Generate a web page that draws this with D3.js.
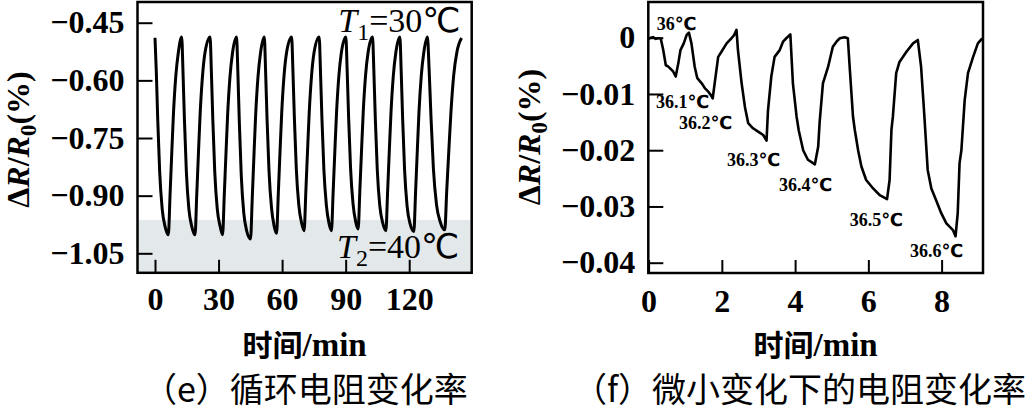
<!DOCTYPE html>
<html><head><meta charset="utf-8">
<script src="https://cdn.jsdelivr.net/npm/d3@7"></script>
<style>html,body{margin:0;padding:0;background:#fff}svg{display:block}</style>
</head><body>
<svg id="chart" width="1035" height="416"></svg>
<script>
// ---------- data: (e) cyclic resistance change ----------
const cycleTime = [0,0.6,1.3,2.2,3.4,4.8,6.3,7.1,7.9,8.7,9.8,11.0,
 12.6,13.2,13.9,14.8,16.0,17.4,18.9,19.7,20.5,21.3,22.4,23.6,
 26.0,26.6,27.3,28.2,29.4,30.8,31.9,32.7,33.5,34.3,35.4,36.6,
 38.5,39.1,39.8,40.7,41.9,43.3,45.1,45.9,46.7,47.5,48.6,49.8,
 51.6,52.2,52.9,53.8,55.0,56.2,57.4,58.2,59.0,59.8,60.9,62.1,
 64.5,65.1,65.8,66.7,67.9,69.2,70.4,71.2,72.0,72.8,73.9,75.1,
 77.5,78.1,78.8,79.7,80.9,82.1,83.3,84.1,84.9,85.7,86.8,88.0,
 90.1,90.7,91.4,92.3,93.5,94.7,95.9,96.7,97.5,98.3,99.4,100.6,
 102.7,103.3,104.0,104.9,106.1,107.5,109.0,109.8,110.6,111.4,112.5,113.7,
 115.6,116.2,116.9,117.8,119.0,120.4,122.2,123.0,123.8,124.6,125.7,126.9,
 128.6,129.4,130.3,131.4,132.9,134.7,136.8,137.7,138.7,139.7,141.0,142.5,144.7];
const cycleValue = [-0.489,-0.575,-0.703,-0.837,-0.935,-0.981,-1.002,-0.899,-0.791,-0.688,-0.590,-0.528,
 -0.487,-0.575,-0.703,-0.837,-0.935,-0.981,-1.002,-0.899,-0.791,-0.688,-0.590,-0.528,
 -0.487,-0.575,-0.703,-0.837,-0.935,-0.981,-1.002,-0.899,-0.791,-0.688,-0.590,-0.528,
 -0.487,-0.576,-0.708,-0.845,-0.945,-0.992,-1.013,-0.908,-0.797,-0.692,-0.592,-0.529,
 -0.487,-0.574,-0.702,-0.834,-0.932,-0.978,-0.998,-0.896,-0.788,-0.686,-0.589,-0.528,
 -0.487,-0.573,-0.699,-0.830,-0.925,-0.971,-0.991,-0.890,-0.784,-0.684,-0.588,-0.527,
 -0.487,-0.573,-0.699,-0.830,-0.925,-0.971,-0.991,-0.890,-0.784,-0.684,-0.588,-0.527,
 -0.487,-0.572,-0.697,-0.827,-0.922,-0.967,-0.987,-0.887,-0.782,-0.682,-0.587,-0.527,
 -0.487,-0.573,-0.699,-0.830,-0.925,-0.971,-0.991,-0.890,-0.784,-0.684,-0.588,-0.527,
 -0.487,-0.573,-0.700,-0.831,-0.927,-0.973,-0.993,-0.892,-0.786,-0.684,-0.588,-0.527,
 -0.487,-0.572,-0.698,-0.828,-0.924,-0.969,-0.989,-0.889,-0.783,-0.683,-0.587,-0.527,-0.490];
const cycleXTicks = [0,30,60,90,120];
const cycleXTickLabels = ["0","30","60","90","120"];
const cycleYTicks = [-0.45,-0.60,-0.75,-0.90,-1.05];
const cycleYTickLabels = ["\u22120.45","\u22120.60","\u22120.75","\u22120.90","\u22121.05"];
const hotZoneFrom = -0.963;            // shaded band (T2 zone) upper value
const coldLabel = {sym:"T", sub:"1", rest:"=30\u2103", t:86.5, v:-0.4734};
const hotLabel  = {sym:"T", sub:"2", rest:"=40\u2103", t:85.9, v:-1.063};

// ---------- data: (f) small change resistance ----------
const smallTime = [0.00,0.06,0.12,0.20,0.26,0.33,0.40,0.47,0.53,0.58,0.67,0.74,0.81,0.87,0.96,1.04,1.10,
 1.17,1.26,1.33,1.45,1.54,1.63,1.70,1.75,1.81,1.90,1.99,2.13,2.26,2.33,2.40,
 2.44,2.54,2.63,2.72,2.85,2.99,3.13,3.22,3.26,3.35,3.44,3.58,3.67,3.76,3.87,
 3.94,4.04,4.10,4.22,4.35,4.49,4.54,4.63,4.67,4.76,4.90,5.03,5.13,5.22,5.35,5.44,
 5.49,5.58,5.63,5.72,5.81,5.94,6.13,6.31,6.51,6.58,6.63,6.67,6.76,6.85,7.04,7.22,7.35,
 7.44,7.53,7.62,7.72,7.85,7.99,8.13,8.31,8.38,8.44,8.49,8.54,8.63,8.72,8.86,8.99,9.11];
const smallValue = [-0.0002,0.0000,0.0001,-0.0002,-0.0001,-0.0001,-0.0022,-0.0049,-0.0051,-0.0054,-0.0060,-0.0069,-0.0046,-0.0022,-0.0010,0.0005,0.0009,
 -0.0010,-0.0052,-0.0072,-0.0081,-0.0090,-0.0096,-0.0102,-0.0108,-0.0078,-0.0034,-0.0025,-0.0010,-0.0001,0.0004,0.0014,
 -0.0022,-0.0081,-0.0123,-0.0152,-0.0161,-0.0167,-0.0173,-0.0183,-0.0129,-0.0069,-0.0034,-0.0022,-0.0007,-0.0001,0.0006,
 -0.0081,-0.0140,-0.0165,-0.0200,-0.0217,-0.0223,-0.0225,-0.0194,-0.0150,-0.0081,-0.0052,-0.0016,-0.0007,-0.0001,0.0001,-0.0001,
 -0.0052,-0.0140,-0.0164,-0.0200,-0.0229,-0.0253,-0.0268,-0.0280,-0.0287,-0.0253,-0.0164,-0.0140,-0.0063,-0.0043,-0.0025,-0.0010,-0.0004,
 -0.0052,-0.0140,-0.0235,-0.0268,-0.0289,-0.0312,-0.0330,-0.0342,-0.0353,-0.0312,-0.0223,-0.0200,-0.0111,-0.0063,-0.0034,-0.0010,-0.0001];
const smallXTicks = [0,2,4,6,8];
const smallXTickLabels = ["0","2","4","6","8"];
const smallYTicks = [0,-0.01,-0.02,-0.03,-0.04];
const smallYTickLabels = ["0","\u22120.01","\u22120.02","\u22120.03","\u22120.04"];
const stepLabels = ["36\u2103","36.1\u2103","36.2\u2103","36.3\u2103","36.4\u2103","36.5\u2103","36.6\u2103"];
const stepLabelTime  = [0.22,0.20,0.83,2.14,3.56,5.49,7.14];
const stepLabelValue = [0.00137,-0.0125,-0.0162,-0.0228,-0.0273,-0.0335,-0.0389];

const xTitle = ["\u65f6\u95f4", "/min"];
const captionE = "\uff08e\uff09\u5faa\u73af\u7535\u963b\u53d8\u5316\u7387";
const captionF = "\uff08f\uff09\u5fae\u5c0f\u53d8\u5316\u4e0b\u7684\u7535\u963b\u53d8\u5316\u7387";

// ---------- fonts ----------
const SERIF = `"Liberation Serif", "Times New Roman", serif`;
const SYM = SERIF + `, "DejaVu Sans", "Noto Sans CJK SC"`;
const CJK = `"Noto Sans CJK SC", sans-serif`;

// ---------- drawing ----------
const svg = d3.select("#chart");

function styleAxis(g){
  g.select(".domain").remove();
  g.attr("font-family", null).attr("font-size", null);
  g.selectAll(".tick line").attr("stroke","#000").attr("stroke-width",2);
  g.selectAll(".tick text").attr("fill","#000").style("font-family", SERIF)
   .style("font-size","32px").style("font-weight","700");
}

function yTitle(x, yc){
  const t = svg.append("text").style("font-family",SERIF).attr("transform",`translate(${x},${yc}) rotate(-90)`)
    .attr("text-anchor","middle").style("font-size","32px").style("font-weight","700").attr("fill","#000");
  t.append("tspan").text("\u0394");
  t.append("tspan").style("font-style","italic").text("R");
  t.append("tspan").text("/");
  t.append("tspan").style("font-style","italic").text("R");
  t.append("tspan").style("font-size","23px").attr("dy",7).text("0");
  t.append("tspan").attr("dy",-7).text("(%)");
}

function xTitleAt(xc, y){
  const t = svg.append("text").attr("x",xc).attr("y",y).attr("text-anchor","middle").attr("fill","#000");
  t.append("tspan").style("font-family",CJK).style("font-size","30px").style("font-weight","700").text(xTitle[0]);
  t.append("tspan").style("font-family",SERIF).style("font-size","33px").style("font-weight","700").text(xTitle[1]);
}

function caption(str, x, y){
  svg.append("text").style("font-family",CJK).attr("x",x).attr("y",y)
    .style("font-size","34px").attr("fill","#000").text(str);
}

// ===== Panel (e) =====
const L = {x0:137.5, x1:471.7, y0:2, y1:272.8};
const xL = d3.scaleLinear().domain([-8.26,149.5]).range([L.x0,L.x1]);
const yL = d3.scaleLinear().domain([-0.3961,-1.1007]).range([L.y0,L.y1]);

svg.append("rect").attr("x",L.x0).attr("y",yL(hotZoneFrom))
  .attr("width",L.x1-L.x0).attr("height",L.y1-yL(hotZoneFrom)).attr("fill","#e3e8ea");

svg.append("path").datum(d3.range(cycleTime.length))
  .attr("fill","none").attr("stroke","#000").attr("stroke-width",3).attr("stroke-linejoin","round")
  .attr("d", d3.line().x(i=>xL(cycleTime[i])).y(i=>yL(cycleValue[i])).curve(d3.curveMonotoneX));

svg.append("g").attr("transform",`translate(${L.x0},0)`)
  .call(d3.axisLeft(yL).tickValues(cycleYTicks).tickFormat((d,i)=>cycleYTickLabels[i])
        .tickSize(-15).tickSizeOuter(0).tickPadding(13))
  .call(styleAxis);
svg.append("g").attr("transform",`translate(0,${L.y1})`)
  .call(d3.axisBottom(xL).tickValues(cycleXTicks).tickFormat((d,i)=>cycleXTickLabels[i])
        .tickSize(-13).tickSizeOuter(0).tickPadding(14.5))
  .call(styleAxis);

function tempLabel(lab, x, y){
  const t = svg.append("text").style("font-family",SERIF).attr("x",x).attr("y",y).style("font-size","34px").attr("fill","#000");
  t.append("tspan").style("font-style","italic").text(lab.sym);
  t.append("tspan").style("font-size","24px").attr("dy",8).text(lab.sub);
  t.append("tspan").attr("dy",-8).style("font-family",SYM).text(lab.rest);
}
tempLabel(coldLabel, xL(coldLabel.t), yL(coldLabel.v));
tempLabel(hotLabel, xL(hotLabel.t), yL(hotLabel.v));

svg.append("rect").attr("x",L.x0).attr("y",L.y0).attr("width",L.x1-L.x0).attr("height",L.y1-L.y0)
  .attr("fill","none").attr("stroke","#000").attr("stroke-width",2.5);

yTitle(29, 139.5);
xTitleAt((L.x0+L.x1)/2, 356);

// ===== Panel (f) =====
const R = {x0:648.3, x1:983, y0:2, y1:273};
const xR = d3.scaleLinear().domain([-0.008,9.13]).range([R.x0,R.x1]);
const yR = d3.scaleLinear().domain([0.00635,-0.04183]).range([R.y0,R.y1]);

svg.append("path").datum(d3.range(smallTime.length))
  .attr("fill","none").attr("stroke","#000").attr("stroke-width",2.6).attr("stroke-linejoin","round")
  .attr("d", d3.line().x(i=>xR(smallTime[i])).y(i=>yR(smallValue[i])));

svg.append("g").attr("transform",`translate(${R.x0},0)`)
  .call(d3.axisLeft(yR).tickValues(smallYTicks).tickFormat((d,i)=>smallYTickLabels[i])
        .tickSize(-15).tickSizeOuter(0).tickPadding(13))
  .call(styleAxis);
svg.append("g").attr("transform",`translate(0,${R.y1})`)
  .call(d3.axisBottom(xR).tickValues(smallXTicks).tickFormat((d,i)=>smallXTickLabels[i])
        .tickSize(-13).tickSizeOuter(0).tickPadding(16.5))
  .call(styleAxis);

svg.append("g").selectAll("text").data(stepLabels).join("text")
  .style("font-family",SYM).style("font-weight","700")
  .attr("x",(d,i)=>xR(stepLabelTime[i])).attr("y",(d,i)=>yR(stepLabelValue[i]))
  .style("font-size","18px").attr("fill","#000").text(d=>d);

svg.append("rect").attr("x",R.x0).attr("y",R.y0).attr("width",R.x1-R.x0).attr("height",R.y1-R.y0)
  .attr("fill","none").attr("stroke","#000").attr("stroke-width",2.5);

yTitle(540, 137);
xTitleAt((R.x0+R.x1)/2, 356);

// captions
caption(captionE, 143, 402);
caption(captionF, 573, 402);
</script>
</body></html>
